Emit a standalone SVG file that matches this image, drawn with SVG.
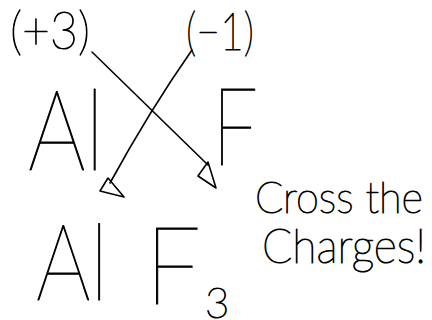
<svg xmlns="http://www.w3.org/2000/svg" width="432" height="320" viewBox="0 0 432 320">
<style>
.t{font-family:"Lato","Liberation Sans",sans-serif;font-weight:100;fill:#000;stroke:#000;stroke-width:1.1;stroke-linejoin:round}
.c{fill:none;stroke:#000;stroke-width:1.6;stroke-linecap:round;stroke-linejoin:round}
</style>
<rect width="432" height="320" fill="#fff"/>
<g id="charge-al"><text class="t" x="10" y="49" font-size="52" textLength="80" lengthAdjust="spacingAndGlyphs">(+3)</text></g>
<g id="charge-f"><text class="t" x="186" y="50" font-size="52" textLength="68" lengthAdjust="spacingAndGlyphs">(−1)</text></g>
<g id="al-top"><text class="t" x="28" y="170" font-size="112" textLength="76" lengthAdjust="spacingAndGlyphs">Al</text></g>
<g id="f-top"><text class="t" x="212" y="165" font-size="108" textLength="46" lengthAdjust="spacingAndGlyphs">F</text></g>
<g id="product"><text class="t" x="36" y="300" font-size="106" textLength="72" lengthAdjust="spacingAndGlyphs">Al</text><text class="t" x="145" y="304" font-size="108" textLength="56" lengthAdjust="spacingAndGlyphs">F</text><text class="t" x="205" y="318" font-size="42">3</text></g>
<g id="note"><text class="t" x="255" y="213" font-size="44" textLength="168" lengthAdjust="spacingAndGlyphs">Cross the</text><text class="t" x="262" y="263" font-size="47" textLength="164" lengthAdjust="spacingAndGlyphs">Charges!</text></g>
<g id="connectors">
<path class="c" d="M92,52 L208,165"/>
<path class="c" d="M208,162 L198,176 L216,188 Z"/>
<path class="c" d="M192,50 Q150,110 110,183"/>
<path class="c" d="M108,178 L100,191 L124,197 Z"/>
</g>
</svg>
